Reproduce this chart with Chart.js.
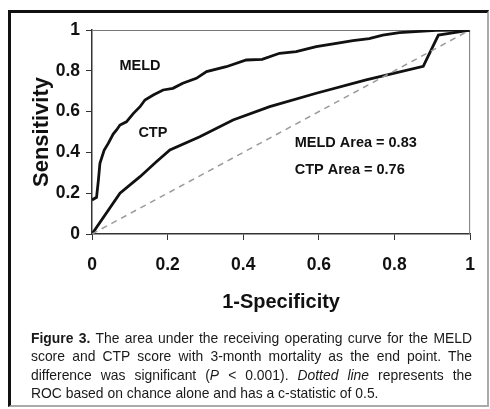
<!DOCTYPE html>
<html>
<head>
<meta charset="utf-8">
<script src="https://cdn.jsdelivr.net/npm/chart.js@4.4.1/dist/chart.umd.min.js"></script>
<style>
  html, body { margin: 0; padding: 0; background: #fff; }
  body { width: 490px; height: 409px; position: relative; overflow: hidden; }
  #frame {
    position: absolute; left: 8px; top: 10px; width: 481px; height: 397px;
    box-sizing: border-box;
    border-left: 3px solid #111; border-top: 3px solid #111;
    border-right: 2px solid #aaa; border-bottom: 2px solid #aaa;
  }
  #rocChart { position: absolute; left: 0; top: 0; }
  #caption {
    position: absolute; left: 31px; top: 329px; width: 441px;
    font-family: "Liberation Sans", Arial, sans-serif; font-size: 13.9px;
    line-height: 18.3px; color: #1a1a1a;
  }
  #caption div { white-space: nowrap; text-align: justify; text-align-last: justify; }
  #caption div.last { text-align-last: left; }
</style>
</head>
<body>
<div id="frame"></div>
<canvas id="rocChart" width="490" height="409"></canvas>
<div id="caption">
  <div><b>Figure 3.</b> The area under the receiving operating curve for the MELD</div>
  <div>score and CTP score with 3-month mortality as the end point. The</div>
  <div>difference was significant (<i>P</i> &lt; 0.001). <i>Dotted line</i> represents the</div>
  <div class="last">ROC based on chance alone and has a c-statistic of 0.5.</div>
</div>
<script>
// ROC curve points (1-specificity, sensitivity)
const meldX = [0, 0.012, 0.017, 0.021, 0.032, 0.043, 0.056, 0.065, 0.074, 0.091, 0.109, 0.127, 0.14, 0.162, 0.188, 0.214, 0.24, 0.276, 0.303, 0.355, 0.408, 0.45, 0.496, 0.54, 0.593, 0.646, 0.69, 0.733, 0.769, 0.813, 0.866, 0.91, 1];
const meldY = [0.167, 0.18, 0.265, 0.347, 0.41, 0.444, 0.49, 0.51, 0.534, 0.55, 0.59, 0.624, 0.657, 0.681, 0.706, 0.714, 0.739, 0.763, 0.796, 0.82, 0.853, 0.856, 0.886, 0.894, 0.918, 0.935, 0.948, 0.958, 0.975, 0.987, 0.993, 0.998, 1];

const ctpX = [0, 0.074, 0.127, 0.171, 0.206, 0.285, 0.373, 0.47, 0.593, 0.725, 0.876, 0.916, 0.945, 1];
const ctpY = [0, 0.2, 0.281, 0.355, 0.412, 0.477, 0.559, 0.624, 0.69, 0.755, 0.822, 0.975, 0.983, 1];

// chance line
const chanceX = [0, 1];
const chanceY = [0, 1];

const tickValues = [0, 0.2, 0.4, 0.6, 0.8, 1];
const tickLabels = ["0", "0.2", "0.4", "0.6", "0.8", "1"];

const labelFont = '"Liberation Sans", Arial, sans-serif';

function toPoints(xs, ys) {
  return xs.map((x, i) => ({ x: x, y: ys[i] }));
}

// text placed inside the plot, in data units
const notes = [
  { text: "MELD", x: 0.127, y: 0.825, align: "center" },
  { text: "CTP", x: 0.161, y: 0.495, align: "center" },
  { text: "MELD Area = 0.83", x: 0.536, y: 0.446, align: "left" },
  { text: "CTP Area = 0.76", x: 0.536, y: 0.314, align: "left" },
];

const plotDecor = {
  id: "plotDecor",
  beforeDatasetsDraw(chart) {
    const { ctx, chartArea: a } = chart;
    ctx.save();
    ctx.strokeStyle = "#777";
    ctx.lineWidth = 1;
    ctx.beginPath();
    ctx.moveTo(a.left, a.top + 0.5);
    ctx.lineTo(a.right - 0.5, a.top + 0.5);
    ctx.lineTo(a.right - 0.5, a.bottom);
    ctx.stroke();
    ctx.restore();
  },
  afterDatasetsDraw(chart) {
    const { ctx, scales } = chart;
    ctx.save();
    ctx.fillStyle = "#111";
    ctx.font = "bold 14.5px " + labelFont;
    ctx.textBaseline = "middle";
    notes.forEach((n) => {
      ctx.textAlign = n.align;
      ctx.fillText(n.text, scales.x.getPixelForValue(n.x), scales.y.getPixelForValue(n.y));
    });
    ctx.restore();
  },
};

function fixTicks(scale) {
  scale.ticks = tickValues.map((v) => ({ value: v }));
}

const ctx = document.getElementById("rocChart").getContext("2d");
new Chart(ctx, {
  type: "line",
  data: {
    datasets: [
      {
        label: "Chance",
        data: toPoints(chanceX, chanceY),
        borderColor: "#9a9a9a",
        borderWidth: 1.5,
        borderDash: [6, 5],
        pointRadius: 0,
      },
      {
        label: "CTP",
        data: toPoints(ctpX, ctpY),
        borderColor: "#111",
        borderWidth: 2.8,
        pointRadius: 0,
        tension: 0,
      },
      {
        label: "MELD",
        data: toPoints(meldX, meldY),
        borderColor: "#111",
        borderWidth: 2.8,
        pointRadius: 0,
        tension: 0,
      },
    ],
  },
  options: {
    responsive: false,
    animation: false,
    devicePixelRatio: 1,
    layout: { padding: { left: 0, top: 30, right: 19, bottom: 95 } },
    plugins: {
      legend: { display: false },
      tooltip: { enabled: false },
    },
    scales: {
      x: {
        type: "linear",
        min: 0,
        max: 1,
        afterBuildTicks: fixTicks,
        afterFit(scale) { scale.height = 80; },
        border: { color: "#333", width: 1.5 },
        grid: { drawOnChartArea: false, drawTicks: true, tickLength: 6, color: "#333" },
        ticks: {
          padding: 15,
          color: "#111",
          font: { family: labelFont, size: 17.5, weight: "bold" },
          callback: (v, i) => tickLabels[i],
          maxRotation: 0,
        },
        title: {
          display: true,
          text: "1-Specificity",
          color: "#111",
          padding: { top: 0, bottom: 0 },
          font: { family: labelFont, size: 20, weight: "bold" },
        },
      },
      y: {
        min: 0,
        max: 1,
        afterBuildTicks: fixTicks,
        afterFit(scale) { scale.width = 92; },
        border: { color: "#333", width: 1.5 },
        grid: { drawOnChartArea: false, drawTicks: true, tickLength: 6, color: "#333" },
        ticks: {
          padding: 6,
          color: "#111",
          font: { family: labelFont, size: 17.5, weight: "bold" },
          callback: (v, i) => tickLabels[i],
        },
        title: {
          display: true,
          text: "Sensitivity",
          color: "#111",
          padding: { top: 29, bottom: 0 },
          font: { family: labelFont, size: 22, weight: "bold" },
        },
      },
    },
  },
  plugins: [plotDecor],
});
</script>
</body>
</html>
